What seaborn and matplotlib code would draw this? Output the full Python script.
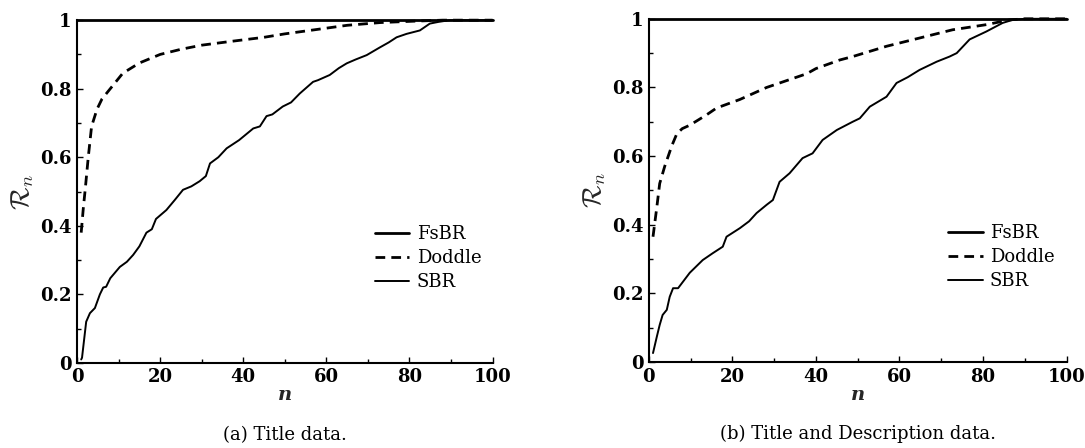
import matplotlib
matplotlib.use("Agg")
import matplotlib.pyplot as plt
import seaborn as sns
import pandas as pd
from matplotlib.ticker import FixedLocator, MultipleLocator

# ---------------- data ----------------
x_ticks = [0, 20, 40, 60, 80, 100]
x_tick_labels = ["0", "20", "40", "60", "80", "100"]
y_ticks = [0, 0.2, 0.4, 0.6, 0.8, 1.0]
y_tick_labels = ["0", "0.2", "0.4", "0.6", "0.8", "1"]
methods = ["FsBR", "Doddle", "SBR"]
captions = ["(a) Title data.", "(b) Title and Description data."]

# Panel (a): Title data
fsbr_a_n = [0, 100]
fsbr_a_r = [1.0, 1.0]
doddle_a_n = [1, 1.5, 2, 2.7, 3.5, 4.8, 6, 8, 11, 15, 20, 25, 30, 37, 45, 50, 56, 65, 73, 81, 88, 100]
doddle_a_r = [0.38, 0.45, 0.51, 0.60, 0.69, 0.74, 0.77, 0.80, 0.845, 0.875, 0.90, 0.915, 0.927,
              0.938, 0.95, 0.96, 0.97, 0.985, 0.993, 0.997, 1.0, 1.0]
sbr_a_n = [1, 1.2, 2.2, 3.1, 4.3, 5.5, 6.3, 7, 8, 10.3, 12, 13.5, 15, 16.7, 18, 19, 21.5, 23.5,
           25.5, 27.5, 29.5, 31, 32, 34, 36, 39, 42.4, 44, 45.6, 47, 49.5, 51.5, 53.6, 56.8, 58,
           60.8, 63, 64.9, 67, 69.7, 72.8, 75, 76.9, 79.3, 82.5, 84.9, 87, 89.7, 100]
sbr_a_r = [0.01, 0.015, 0.12, 0.145, 0.16, 0.2, 0.22, 0.222, 0.247, 0.28, 0.295, 0.315, 0.34,
           0.38, 0.39, 0.42, 0.446, 0.475, 0.505, 0.515, 0.53, 0.545, 0.582, 0.6, 0.626, 0.65,
           0.684, 0.69, 0.72, 0.725, 0.748, 0.76, 0.786, 0.82, 0.825, 0.84, 0.86, 0.874, 0.885,
           0.898, 0.92, 0.935, 0.95, 0.96, 0.97, 0.99, 0.995, 1.0, 1.0]

# Panel (b): Title and Description data
fsbr_b_n = [0, 100]
fsbr_b_r = [1.0, 1.0]
doddle_b_n = [1, 1.9, 2.6, 3.8, 5.5, 6.7, 8, 9.8, 13.8, 16.2, 21.8, 28.2, 33, 37.8, 40, 45.7,
              48.8, 56.9, 64.8, 72.7, 80.8, 86.4, 90, 100]
doddle_b_r = [0.365, 0.45, 0.52, 0.57, 0.63, 0.665, 0.68, 0.69, 0.72, 0.74, 0.765, 0.80, 0.82,
              0.84, 0.855, 0.88, 0.89, 0.92, 0.944, 0.968, 0.983, 0.997, 1.0, 1.0]
sbr_b_n = [1, 1.9, 2.6, 3.3, 4.3, 5, 5.8, 7, 9.8, 12.9, 15.3, 17.7, 18.6, 21.8, 24, 25.8, 28.2,
           29.7, 31.3, 33.7, 36.8, 39.2, 41.6, 45, 48.8, 50.5, 52.9, 56.9, 59.3, 62, 64.8, 68.9,
           72, 73.7, 76.8, 80.8, 84.7, 87.1, 90, 100]
sbr_b_r = [0.026, 0.073, 0.108, 0.137, 0.152, 0.19, 0.215, 0.215, 0.26, 0.297, 0.317, 0.336,
           0.365, 0.39, 0.41, 0.434, 0.458, 0.472, 0.525, 0.55, 0.594, 0.608, 0.647, 0.676, 0.70,
           0.71, 0.744, 0.773, 0.813, 0.83, 0.851, 0.875, 0.89, 0.9, 0.94, 0.963, 0.988, 0.997,
           1.0, 1.0]

# ---------------- style ----------------
sns.set_style("ticks")
plt.rcParams["font.family"] = ["DejaVu Serif"]
plt.rcParams["mathtext.fontset"] = "cm"

fig = plt.figure(figsize=(10.85, 4.48), dpi=100)
ax_a = fig.add_axes([0.071, 0.19, 0.383, 0.765])
ax_b = fig.add_axes([0.598, 0.192, 0.385, 0.766])

styles = {
    "FsBR": dict(linewidth=2.0, linestyle="-"),
    "Doddle": dict(linewidth=2.0, linestyle=(0, (3.5, 2.2))),
    "SBR": dict(linewidth=1.4, linestyle="-"),
}

panels = [
    (ax_a, [(fsbr_a_n, fsbr_a_r), (doddle_a_n, doddle_a_r), (sbr_a_n, sbr_a_r)], captions[0]),
    (ax_b, [(fsbr_b_n, fsbr_b_r), (doddle_b_n, doddle_b_r), (sbr_b_n, sbr_b_r)], captions[1]),
]

for ax, series, cap in panels:
    for name, (nv, rv) in zip(methods, series):
        df = pd.DataFrame({"n": nv, "R": rv})
        sns.lineplot(data=df, x="n", y="R", ax=ax, color="black", label=name,
                     clip_on=False, **styles[name])
    ax.set_xlim(0, 100)
    ax.set_ylim(0, 1)
    for s in ["top", "right"]:
        ax.spines[s].set_visible(False)
    for s in ["left", "bottom"]:
        ax.spines[s].set_linewidth(1.5)
        ax.spines[s].set_color("black")
    ax.xaxis.set_major_locator(FixedLocator(x_ticks))
    ax.set_xticklabels(x_tick_labels)
    ax.xaxis.set_minor_locator(MultipleLocator(10))
    ax.yaxis.set_major_locator(FixedLocator(y_ticks))
    ax.set_yticklabels(y_tick_labels)
    ax.yaxis.set_minor_locator(MultipleLocator(0.1))
    ax.tick_params(which="both", direction="in", color="black", width=1.0)
    ax.tick_params(which="major", length=4, labelsize=13, pad=4, labelcolor="black")
    ax.tick_params(which="minor", length=3)
    for lab in ax.get_xticklabels() + ax.get_yticklabels():
        lab.set_fontweight("bold")
    ax.set_xlabel("n", fontsize=14, fontstyle="italic", fontweight="bold", labelpad=0)
    ax.set_ylabel(r"$\mathcal{R}_n$", fontsize=19, labelpad=3)
    leg = ax.legend(loc="center left", bbox_to_anchor=(0.70, 0.305), frameon=False,
                    fontsize=13, handlelength=1.9, handletextpad=0.4, labelspacing=0.33,
                    borderaxespad=0)
    for t in leg.get_texts():
        t.set_color("black")
    ax.text(0.5, -0.21, cap, transform=ax.transAxes, ha="center", va="center",
            fontsize=13, color="black")

fig.savefig("out.png", dpi=100)
